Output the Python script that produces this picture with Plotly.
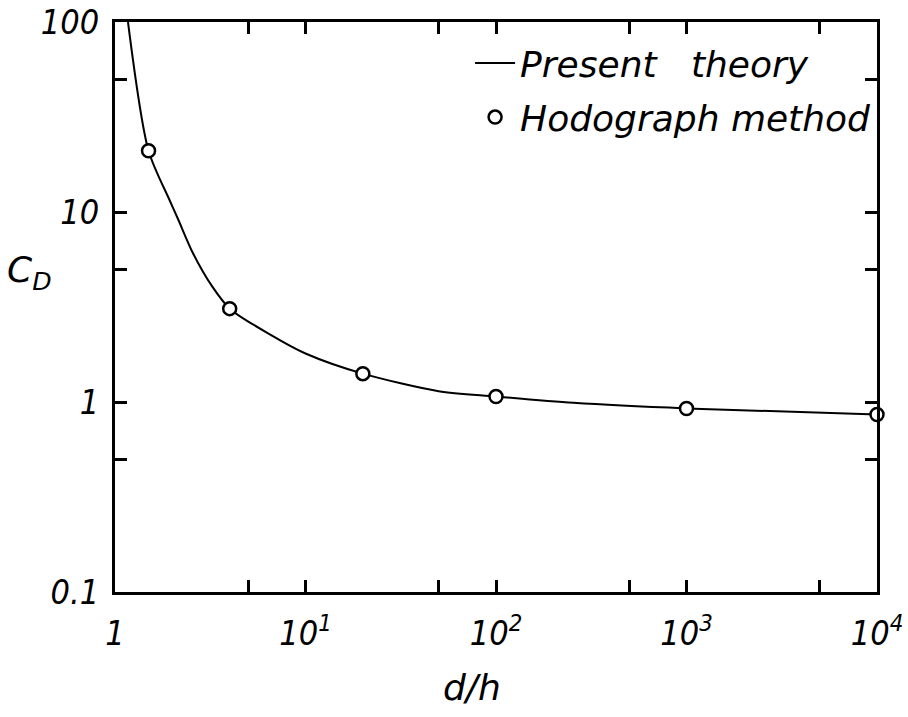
import plotly.graph_objects as go

# Present theory curve
curve_x = [1.17, 1.5, 1.93, 2.15, 2.56, 3.23, 4, 6.6, 10, 20, 50, 100, 255, 1000, 10000]
curve_y = [100, 21, 11.6, 9.1, 6.1, 4.07, 3.1, 2.25, 1.8, 1.41, 1.14, 1.07, 0.99, 0.925, 0.86]

# Hodograph method points
hodo_x = [1.5, 4, 20, 100, 1000, 10000]
hodo_y = [21, 3.1, 1.41, 1.07, 0.925, 0.86]

x_tickvals = [1, 5, 10, 50, 100, 500, 1000, 5000, 10000]
x_ticktext = ["1", "", "10<sup>1</sup>", "", "10<sup>2</sup>", "", "10<sup>3</sup>", "", "10<sup>4</sup>"]
y_tickvals = [0.1, 0.5, 1, 5, 10, 50, 100]
y_ticktext = ["0.1", "", "1", "", "10", "", "100"]

TICKFONT = "DejaVu Sans Condensed, DejaVu Sans, sans-serif"
FONT = "DejaVu Sans, sans-serif"

fig = go.Figure()
fig.add_trace(go.Scatter(
    x=curve_x, y=curve_y, mode="lines", name="Present&nbsp;&nbsp; theory",
    line=dict(color="black", width=2, shape="spline", smoothing=0.8),
    legend="legend",
))
fig.add_trace(go.Scatter(
    x=hodo_x, y=hodo_y, mode="markers", name="Hodograph method",
    marker=dict(symbol="circle", size=13, color="white",
                line=dict(color="black", width=2.5)),
    cliponaxis=False,
    legend="legend2",
))

axis_common = dict(
    type="log", showgrid=False, zeroline=False, automargin=False,
    showline=True, linecolor="black", linewidth=3, mirror="ticks",
    ticks="inside", ticklen=12, tickwidth=2.5, tickcolor="black",
    ticklabeloverflow="allow",
    tickfont=dict(family=TICKFONT, size=34, color="black", style="italic"),
)

legend_common = dict(
    xanchor="left", yanchor="middle",
    bgcolor="rgba(0,0,0,0)", borderwidth=0,
    font=dict(family=FONT, size=36, color="black", style="italic"),
    itemwidth=40,
)

fig.update_layout(
    width=908, height=717,
    margin=dict(l=115, r=31, t=22, b=125),
    paper_bgcolor="white", plot_bgcolor="white",
    showlegend=True,
    legend=dict(x=0.466, y=0.928, **legend_common),
    legend2=dict(x=0.466, y=0.833, **legend_common),
    xaxis=dict(range=[0, 4], tickvals=x_tickvals, ticktext=x_ticktext,
               ticklabelstandoff=9, **axis_common),
    yaxis=dict(range=[-1, 2], tickvals=y_tickvals, ticktext=y_ticktext,
               ticklabelstandoff=6, **axis_common),
    annotations=[
        dict(text="d/h", xref="paper", yref="paper", x=0.468, y=-0.168,
             showarrow=False, xanchor="center", yanchor="middle",
             font=dict(family=FONT, size=36, color="black", style="italic")),
        dict(text="C<sub>D</sub>", xref="paper", yref="paper", x=-0.112, y=0.561,
             showarrow=False, xanchor="center", yanchor="middle",
             font=dict(family=FONT, size=36, color="black", style="italic")),
    ],
)

fig.write_html(
    "out.html",
    config={"displayModeBar": False},
    post_script="document.body.style.margin='0';document.body.style.overflow='hidden';",
)
